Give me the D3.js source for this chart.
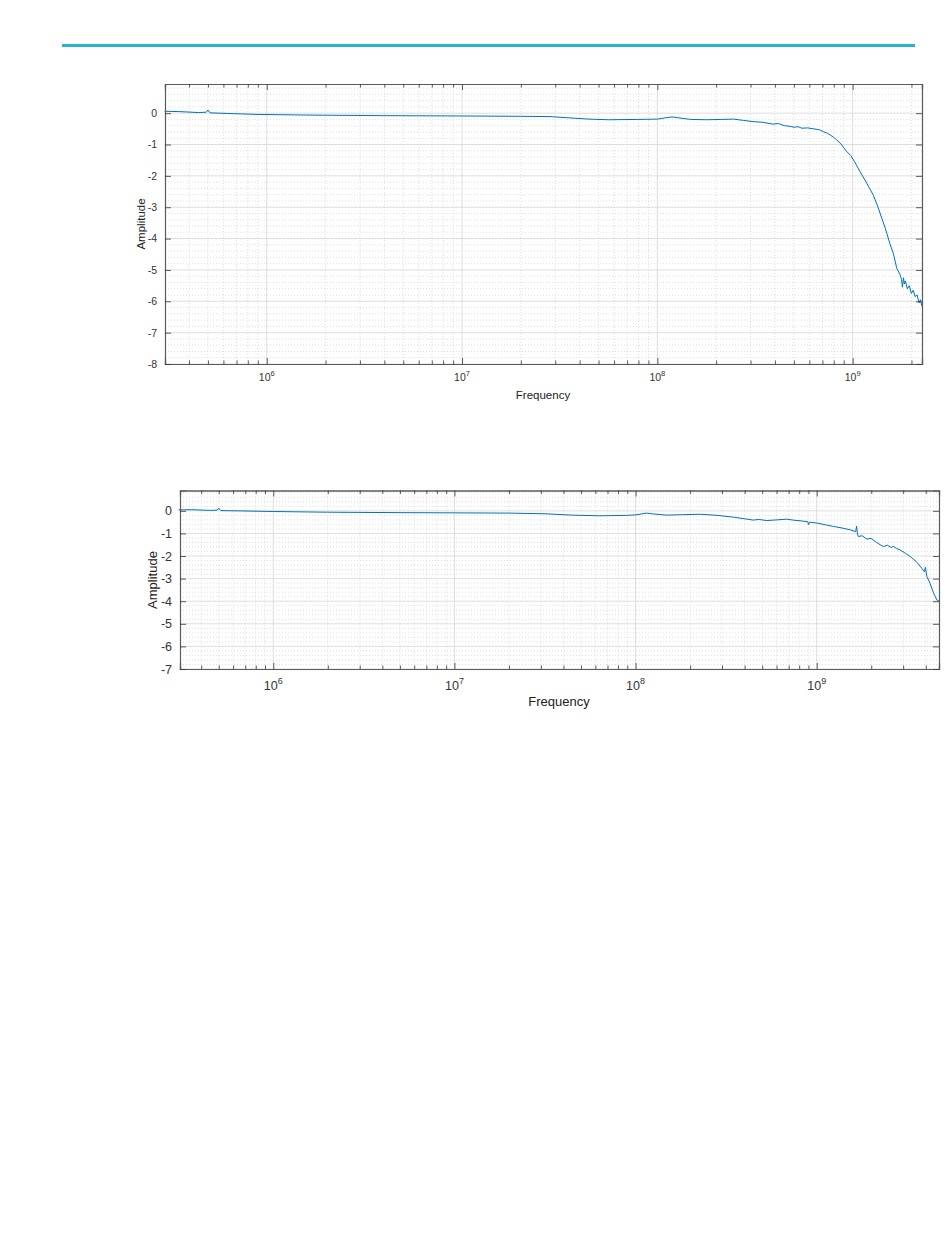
<!DOCTYPE html>
<html>
<head>
<meta charset="utf-8">
<script src="https://cdn.jsdelivr.net/npm/d3@7"></script>
<style>
  html, body { margin: 0; padding: 0; background: #fff; }
  svg { display: block; font-family: "Liberation Sans", Arial, Helvetica, sans-serif; }
</style>
</head>
<body>
<svg id="chart" width="950" height="1254"></svg>
<script>
// ---- Data (log10 frequency, amplitude) ----
const topLogFreq = [5.477,5.55,5.65,5.69,5.699,5.71,5.8,5.95,6.2,6.6,7.0,7.3,7.45,7.55,7.65,7.75,7.9,8.0,8.04,8.075,8.11,8.17,8.25,8.33,8.39,8.44,8.49,8.54,8.59,8.62,8.65,8.68,8.70,8.72,8.74,8.77,8.80,8.83,8.85,8.87,8.884,8.90,8.918,8.94,8.966,8.99,9.01,9.038,9.06,9.085,9.106,9.13,9.149,9.163,9.175,9.19,9.208,9.226,9.243,9.25,9.255,9.26,9.265,9.27,9.28,9.29,9.30,9.31,9.32,9.33,9.34,9.347,9.354];
const topAmp = [0.06,0.05,0.02,0.03,0.10,0.01,-0.01,-0.04,-0.06,-0.08,-0.09,-0.10,-0.11,-0.15,-0.19,-0.21,-0.20,-0.19,-0.15,-0.12,-0.15,-0.20,-0.21,-0.20,-0.19,-0.23,-0.27,-0.29,-0.35,-0.33,-0.40,-0.42,-0.45,-0.43,-0.48,-0.47,-0.50,-0.53,-0.59,-0.64,-0.69,-0.76,-0.85,-0.98,-1.20,-1.35,-1.55,-1.87,-2.10,-2.38,-2.62,-3.00,-3.35,-3.60,-3.83,-4.15,-4.47,-4.95,-5.16,-5.30,-5.55,-5.25,-5.45,-5.35,-5.60,-5.50,-5.75,-5.65,-5.85,-5.80,-6.05,-5.95,-6.15];

const botLogFreq = [5.477,5.55,5.65,5.69,5.699,5.71,5.8,6.0,6.3,6.7,7.0,7.3,7.5,7.65,7.8,7.95,8.0,8.06,8.1,8.17,8.26,8.356,8.45,8.54,8.6,8.65,8.68,8.724,8.78,8.834,8.88,8.908,8.95,8.955,8.96,9.0,9.05,9.092,9.14,9.184,9.215,9.22,9.225,9.23,9.25,9.277,9.3,9.33,9.35,9.368,9.39,9.41,9.424,9.44,9.46,9.49,9.516,9.55,9.58,9.595,9.6,9.608,9.625,9.645,9.663,9.675];
const botAmp = [0.04,0.05,0.02,0.03,0.12,0.01,0.0,-0.03,-0.06,-0.08,-0.09,-0.10,-0.13,-0.19,-0.22,-0.20,-0.18,-0.10,-0.14,-0.19,-0.17,-0.15,-0.20,-0.28,-0.35,-0.41,-0.38,-0.43,-0.40,-0.37,-0.42,-0.44,-0.48,-0.62,-0.50,-0.54,-0.62,-0.69,-0.76,-0.84,-0.92,-0.68,-1.02,-1.14,-1.10,-1.25,-1.22,-1.40,-1.50,-1.58,-1.52,-1.62,-1.58,-1.66,-1.73,-1.88,-2.02,-2.25,-2.54,-2.70,-2.50,-2.91,-3.20,-3.64,-3.94,-4.00];

const topYTicks = [0,-1,-2,-3,-4,-5,-6,-7,-8];
const botYTicks = [0,-1,-2,-3,-4,-5,-6,-7];
const xTickExponents = [6,7,8,9];
const xLabel = "Frequency";
const yLabel = "Amplitude";

const svg = d3.select("#chart");

// header rule
svg.append("rect").attr("x", 62).attr("y", 44).attr("width", 853).attr("height", 3).attr("fill", "#26b5cd");

function drawPanel(cfg) {
  const g = svg.append("g");
  const x = d3.scaleLog().domain(cfg.xDomain).range([cfg.left, cfg.right]);
  const y = d3.scaleLinear().domain(cfg.yDomain).range([cfg.bottom, cfg.top]);

  // minor grid x
  const minorX = [];
  for (let e = 5; e <= 9; e++) for (let m = 1; m <= 9; m++) {
    const v = m * Math.pow(10, e);
    if (v >= cfg.xDomain[0] && v <= cfg.xDomain[1] && m !== 1) minorX.push(v);
  }
  g.selectAll(".mgx").data(minorX).enter().append("line")
    .attr("x1", d => x(d)).attr("x2", d => x(d)).attr("y1", cfg.top).attr("y2", cfg.bottom)
    .attr("stroke", "#c8c8c8").attr("stroke-width", 0.6).attr("stroke-dasharray", "1,2");
  // minor grid y
  const minorY = [];
  for (let v = Math.ceil(cfg.yDomain[0]); v < cfg.yDomain[1]; v++) for (let k = 1; k < 5; k++) {
    const t = v + k * 0.2;
    if (t < cfg.yDomain[1]) minorY.push(t);
  }
  g.selectAll(".mgy").data(minorY).enter().append("line")
    .attr("x1", cfg.left).attr("x2", cfg.right).attr("y1", d => y(d)).attr("y2", d => y(d))
    .attr("stroke", "#c8c8c8").attr("stroke-width", 0.6).attr("stroke-dasharray", "1,2");
  // major grid
  const majorX = xTickExponents.map(e => Math.pow(10, e));
  g.selectAll(".gx").data(majorX).enter().append("line")
    .attr("x1", d => x(d)).attr("x2", d => x(d)).attr("y1", cfg.top).attr("y2", cfg.bottom)
    .attr("stroke", "#d6d6d6").attr("stroke-width", 0.8);
  g.selectAll(".gy").data(cfg.yTicks).enter().append("line")
    .attr("x1", cfg.left).attr("x2", cfg.right).attr("y1", d => y(d)).attr("y2", d => y(d))
    .attr("stroke", "#d6d6d6").attr("stroke-width", 0.8);

  // data line
  const pts = cfg.lf.map((l, i) => [Math.pow(10, l), cfg.amp[i]]);
  g.append("path").datum(pts)
    .attr("d", d3.line().x(d => x(d[0])).y(d => y(d[1])))
    .attr("fill", "none").attr("stroke", "#0072BD").attr("stroke-width", 1);

  // axes (ticks inward, box)
  const axisColor = "#5a5a5a";
  const axB = d3.axisBottom(x).tickValues(majorX).tickSize(-cfg.majLen).tickFormat("");
  const axBm = d3.axisBottom(x).tickValues(minorX).tickSize(-cfg.minLen).tickFormat("");
  const axT = d3.axisTop(x).tickValues(majorX).tickSize(-cfg.majLen).tickFormat("");
  const axTm = d3.axisTop(x).tickValues(minorX).tickSize(-cfg.minLen).tickFormat("");
  const axL = d3.axisLeft(y).tickValues(cfg.yTicks).tickSize(-cfg.majLen).tickFormat(d3.format("d"));
  const axR = d3.axisRight(y).tickValues(cfg.yTicks).tickSize(-cfg.majLen).tickFormat("");
  [[axB, `translate(0,${cfg.bottom})`], [axBm, `translate(0,${cfg.bottom})`],
   [axT, `translate(0,${cfg.top})`], [axTm, `translate(0,${cfg.top})`],
   [axL, `translate(${cfg.left},0)`], [axR, `translate(${cfg.right},0)`]].forEach(([ax, tr]) => {
    const a = g.append("g").attr("transform", tr).call(ax);
    a.selectAll(".domain").attr("stroke", axisColor).attr("stroke-width", 1.2);
    a.selectAll(".tick line").attr("stroke", "#333").attr("stroke-width", 0.8);
    a.selectAll("text").attr("fill", "#333").style("font-size", cfg.fs + "px")
      .style("font-family", "'Liberation Sans', Arial, sans-serif");
  });
  g.selectAll("g.tick text").filter(function() { return d3.select(this).text() !== ""; })
    .attr("x", -8).text(d => (d === 0 ? "0" : String(d).replace("-", "-")));

  // x tick labels with superscripts
  xTickExponents.forEach(e => {
    const t = g.append("text").attr("x", x(Math.pow(10, e))).attr("y", cfg.xLabY)
      .attr("text-anchor", "middle").attr("fill", "#333").style("font-size", cfg.fs + "px");
    t.append("tspan").text("10");
    t.append("tspan").attr("dy", -cfg.fs * 0.45).style("font-size", (cfg.fs * 0.72) + "px").text(String(e));
  });

  g.append("text").attr("x", cfg.xTitleX).attr("y", cfg.xTitleY).attr("text-anchor", "middle")
    .attr("fill", "#222").style("font-size", cfg.tfs + "px").text(xLabel);
  g.append("text").attr("transform", `translate(${cfg.yTitleX},${cfg.yTitleY}) rotate(-90)`)
    .attr("text-anchor", "middle").attr("fill", "#222").style("font-size", cfg.tfs + "px").text(yLabel);
}

drawPanel({
  xDomain: [Math.pow(10, 5.479), Math.pow(10, 9.355)], yDomain: [-8, 0.93],
  left: 165, right: 922, top: 84, bottom: 364,
  yTicks: topYTicks, lf: topLogFreq, amp: topAmp,
  majLen: 6, minLen: 3.5, fs: 10.5, tfs: 11.5,
  xLabY: 381, xTitleX: 543, xTitleY: 399, yTitleX: 145, yTitleY: 224
});

drawPanel({
  xDomain: [Math.pow(10, 5.485), Math.pow(10, 9.675)], yDomain: [-7, 0.9],
  left: 180, right: 939, top: 490.5, bottom: 669,
  yTicks: botYTicks, lf: botLogFreq, amp: botAmp,
  majLen: 6, minLen: 3.5, fs: 12.5, tfs: 13,
  xLabY: 690, xTitleX: 559, xTitleY: 706, yTitleX: 157, yTitleY: 580
});
</script>
</body>
</html>
